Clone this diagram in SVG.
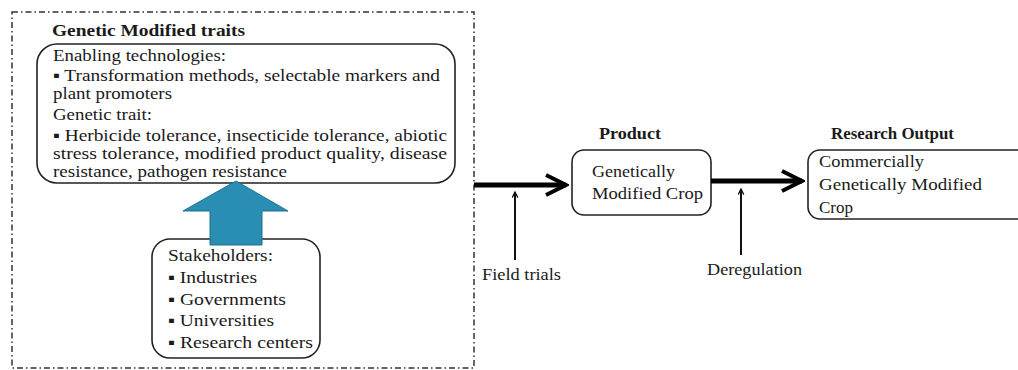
<svg xmlns="http://www.w3.org/2000/svg" width="1018" height="370" viewBox="0 0 1018 370" font-family="'Liberation Serif', 'Times New Roman', serif">
<style>
text{font-family:'Liberation Serif','Times New Roman',serif;fill:#1a1a1a}
.t{font-size:17px}
.b{font-size:16.5px;font-weight:bold}
.box{fill:#fff;stroke:#222;stroke-width:1.6}
.thick{stroke:#000;stroke-width:5;fill:none}
.thin{stroke:#111;stroke-width:2;fill:none}
</style>
<defs>
<marker id="chev" viewBox="0 0 10 10" refX="9" refY="5" markerWidth="5" markerHeight="5" orient="auto" markerUnits="strokeWidth">
<path d="M1,1 L9,5 L1,9" fill="none" stroke="#000" stroke-width="1.6" stroke-linejoin="miter"/>
</marker>
<marker id="open" viewBox="0 0 10 10" refX="9" refY="5" markerWidth="7" markerHeight="7" orient="auto" markerUnits="userSpaceOnUse">
<path d="M1,1 L9,5 L1,9" fill="none" stroke="#111" stroke-width="1.8"/>
</marker>
</defs>
<rect width="1018" height="370" fill="#fff"/>
<g id="frame">
<rect x="12" y="12" width="462" height="356" fill="none" stroke="#333" stroke-width="1.5" stroke-dasharray="6,3,1.5,3"/>
</g>
<g id="gm-traits">
<text class="b" x="52" y="36" textLength="193" lengthAdjust="spacingAndGlyphs">Genetic Modified traits</text>
<rect class="box" x="37" y="44" width="418" height="139" rx="20"/>
<text class="t" x="53" y="61" textLength="173" lengthAdjust="spacingAndGlyphs">Enabling technologies:</text>
<text class="t" x="53" y="81" textLength="387" lengthAdjust="spacingAndGlyphs">▪ Transformation methods, selectable markers and</text>
<text class="t" x="53" y="99" textLength="119" lengthAdjust="spacingAndGlyphs">plant promoters</text>
<text class="t" x="53" y="120" textLength="99" lengthAdjust="spacingAndGlyphs">Genetic trait:</text>
<text class="t" x="53" y="141" textLength="394" lengthAdjust="spacingAndGlyphs">▪ Herbicide tolerance, insecticide tolerance, abiotic</text>
<text class="t" x="53" y="159" textLength="394" lengthAdjust="spacingAndGlyphs">stress tolerance, modified product quality, disease</text>
<text class="t" x="53" y="177" textLength="234" lengthAdjust="spacingAndGlyphs">resistance, pathogen resistance</text>
</g>
<g id="stakeholders">
<rect class="box" x="152" y="239" width="168" height="119" rx="18"/>
<text class="t" x="168" y="261" textLength="105" lengthAdjust="spacingAndGlyphs">Stakeholders:</text>
<text class="t" x="168" y="283" textLength="89" lengthAdjust="spacingAndGlyphs">▪ Industries</text>
<text class="t" x="168" y="305" textLength="118" lengthAdjust="spacingAndGlyphs">▪ Governments</text>
<text class="t" x="168" y="326" textLength="106" lengthAdjust="spacingAndGlyphs">▪ Universities</text>
<text class="t" x="168" y="348" textLength="145" lengthAdjust="spacingAndGlyphs">▪ Research centers</text>
</g>
<g id="product">
<text class="b" x="599" y="139" textLength="62" lengthAdjust="spacingAndGlyphs">Product</text>
<rect class="box" x="572" y="150" width="139" height="65" rx="12"/>
<text class="t" x="592" y="177" textLength="83" lengthAdjust="spacingAndGlyphs">Genetically</text>
<text class="t" x="592" y="199" textLength="111" lengthAdjust="spacingAndGlyphs">Modified Crop</text>
</g>
<g id="research-output">
<text class="b" x="831" y="139" textLength="123" lengthAdjust="spacingAndGlyphs">Research Output</text>
<rect class="box" x="808" y="150" width="240" height="69" rx="12"/>
<text class="t" x="819" y="167" textLength="105" lengthAdjust="spacingAndGlyphs">Commercially</text>
<text class="t" x="819" y="190" textLength="163" lengthAdjust="spacingAndGlyphs">Genetically  Modified</text>
<text class="t" x="819" y="213">Crop</text>
</g>
<g id="labels">
<text class="t" x="482" y="280" textLength="79" lengthAdjust="spacingAndGlyphs">Field trials</text>
<text class="t" x="707" y="275" textLength="95" lengthAdjust="spacingAndGlyphs">Deregulation</text>
</g>
<g id="connectors">
<path d="M236,181 L288,211 L262,211 L262,245 L210,245 L210,211 L183,211 Z" fill="#2a8db4" stroke="#1f6f8f" stroke-width="1"/>
<line class="thick" x1="474" y1="185" x2="566" y2="185" marker-end="url(#chev)"/>
<line class="thick" x1="711" y1="181" x2="802" y2="181" marker-end="url(#chev)"/>
<line class="thin" x1="515" y1="260" x2="515" y2="192" marker-end="url(#open)"/>
<line class="thin" x1="741" y1="255" x2="741" y2="189" marker-end="url(#open)"/>
</g>
</svg>
